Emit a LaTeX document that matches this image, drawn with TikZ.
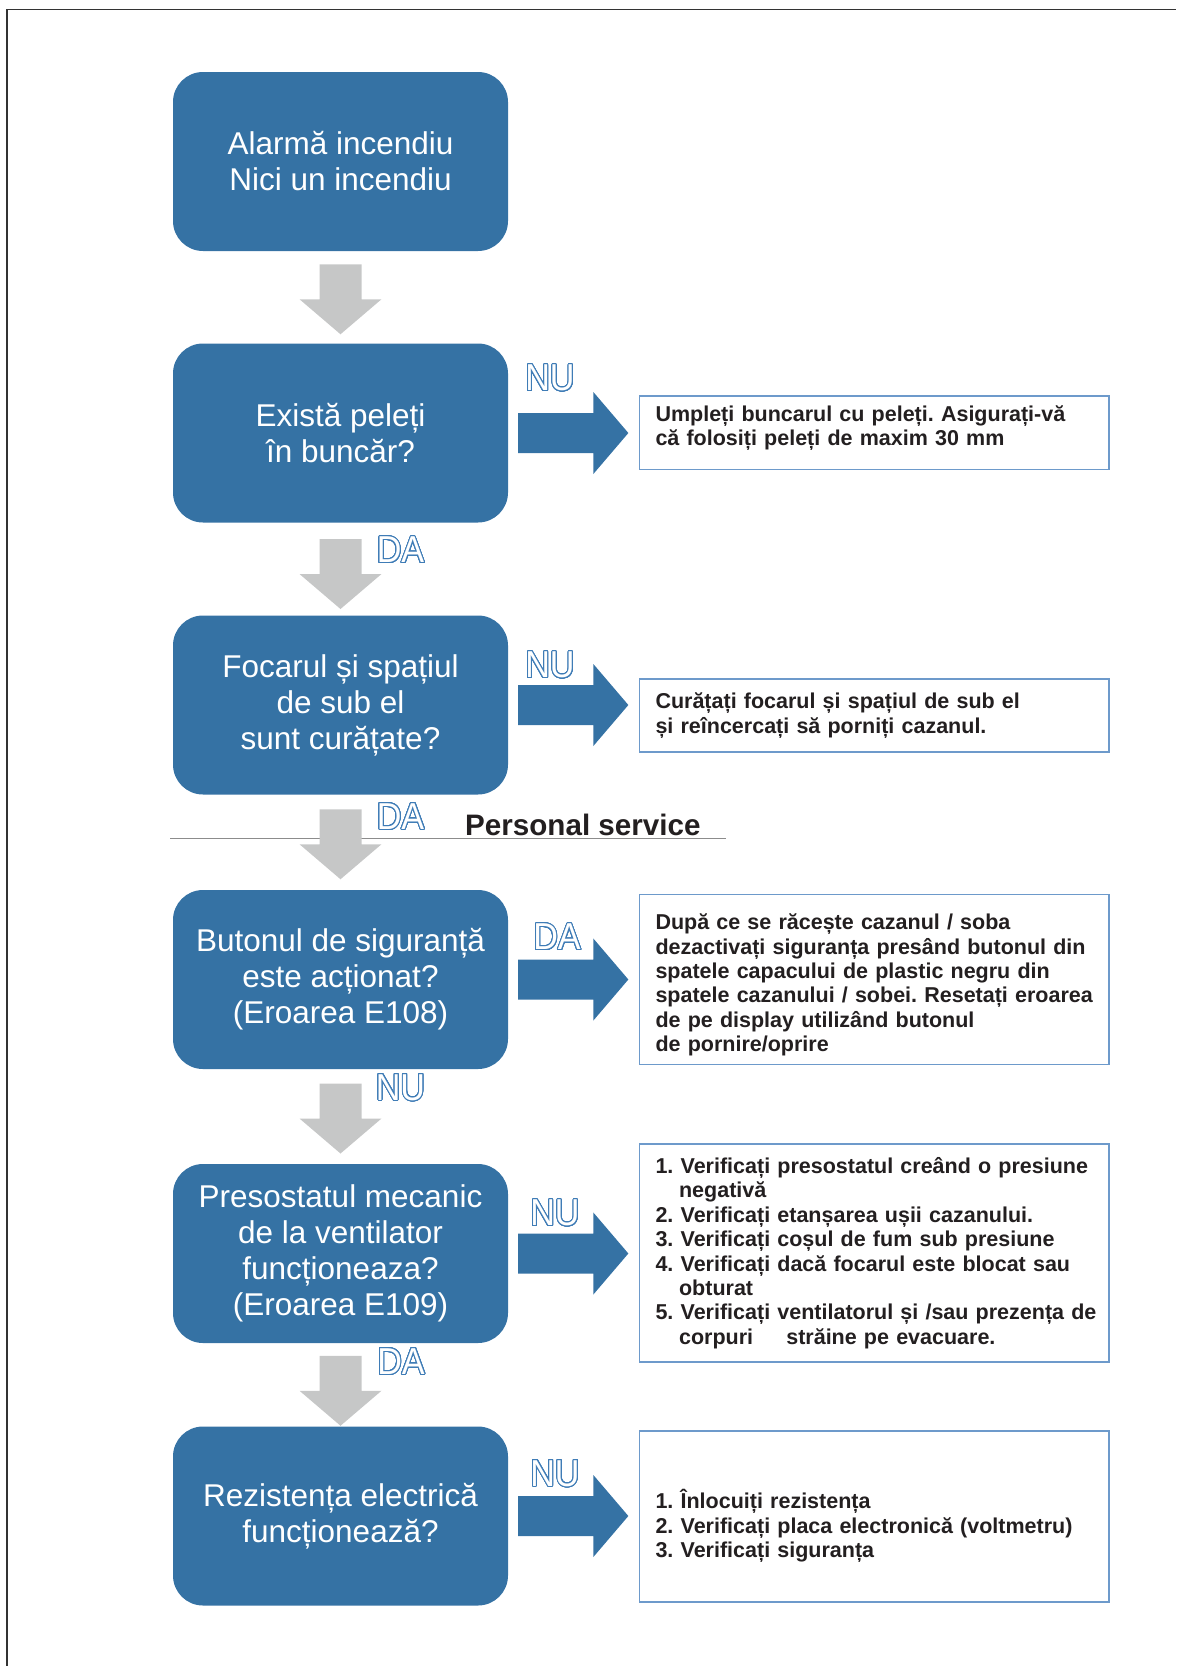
\documentclass[tikz,border=0pt]{standalone}
\usepackage{fontspec}
\setmainfont{Liberation Sans}
\usepackage{graphicx}
\usepackage{contour}
\usetikzlibrary{calc}

\definecolor{boxblue}{HTML}{3572A4}
\definecolor{arrowgray}{HTML}{C6C7C7}
\definecolor{edgeblue}{HTML}{6D9ACB}
\definecolor{inkdark}{HTML}{231F20}
\definecolor{labelblue}{HTML}{3F7CB6}
\definecolor{rulegray}{HTML}{8C8C8C}
\definecolor{framegray}{HTML}{333333}

\contourlength{1.1pt}
\contournumber{32}
\frenchspacing

% hollow answer label (white letters, blue outline)
\newcommand\yesno[1]{\scalebox{0.91}[1]{\contour{labelblue}{#1}}}

% grey block arrow centred in the gap between two stacked boxes
\newcommand\grayarrowto[3][2]{%
  \coordinate (ga) at ($(#2.south)!.5!(#3.north)+(0,#1)$);
  \fill[grayflow] ($(ga)+(-21,-35)$) -- ($(ga)+(21,-35)$) -- ($(ga)+(21,0)$)
    -- ($(ga)+(41,0)$) -- ($(ga)+(0,35)$) -- ($(ga)+(-41,0)$)
    -- ($(ga)+(-21,0)$) -- cycle;}

% blue block arrow from a question box towards its advice box
\newcommand\bluearrowto[2]{%
  \coordinate (ra) at ($(#1.east)+(10,0)$);
  \coordinate (rt) at (#2.west |- #1.east);
  \coordinate (rb) at ($(rt)+(-10.5,0)$);
  \fill[blueflow] ($(ra)+(0,-20)$) -- ($(rb)+(-35,-20)$) -- ($(rb)+(-35,-41)$)
    -- (rb) -- ($(rb)+(-35,41)$) -- ($(rb)+(-35,20)$) -- ($(ra)+(0,20)$) -- cycle;}

\begin{document}
\begin{tikzpicture}[x=1pt,y=-1pt,
  question/.style={rectangle, rounded corners=30pt, fill=boxblue, text=white,
    minimum width=335pt, minimum height=179pt, inner sep=0pt, align=center,
    font=\fontsize{31.5}{36}\selectfont},
  advice/.style={rectangle, draw=edgeblue, line width=1.3pt, fill=white,
    minimum width=469.5pt, text width=437.5pt, inner xsep=16pt, inner ysep=0pt,
    align=left, text=inkdark, font=\bfseries\fontsize{21.5}{24.4}\selectfont},
  answer/.style={inner sep=0pt, text=white, font=\fontsize{37.5}{40}\selectfont},
  grayflow/.style={fill=arrowgray},
  blueflow/.style={fill=boxblue},
  framestyle/.style={draw=framegray, line width=1.3pt},
  divider/.style={draw=rulegray, line width=1.2pt}]

\useasboundingbox (0,0) rectangle (1176,1666);

% page frame
\draw[framestyle] (7,1666) -- (7,9.5) -- (1176,9.5);

% questions
\node[question] (b1) at (340.5,161.5) {Alarmă incendiu\\Nici un incendiu};
\node[question] (b2) at (340.5,433)   {Există peleți\\în buncăr?};
\node[question] (b3) at (340.5,705)   {Focarul și spațiul\\de sub el\\sunt curățate?};
\node[question] (b4) at (340.5,979.5) {Butonul de siguranță\\este acționat?\\(Eroarea E108)};
\node[question] (b5) at (340.5,1253.5){Presostatul mecanic\\de la ventilator\\funcționeaza?\\(Eroarea E109)};
\node[question] (b6) at (340.5,1516)  {Rezistența electrică\\funcționează?};

% advice boxes
\node[advice, minimum height=73.5pt] (t1) at (874.25,432.75)
  {\mbox{Umpleți buncarul cu peleți. Asigurați-vă}\\
   \mbox{că folosiți peleți de maxim 30 mm}\rule[-14pt]{0pt}{0pt}};
\node[advice, minimum height=73pt] (t2) at (874.25,715.5)
  {\mbox{Curățați focarul și spațiul de sub el}\\
   \mbox{și reîncercați să porniți cazanul.}};
\node[advice, minimum height=170pt] (t3) at (874.25,979.5)
  {\rule{0pt}{27pt}\mbox{După ce se răcește cazanul / soba}\\
   \mbox{dezactivați siguranța presând butonul din}\\
   \mbox{spatele capacului de plastic negru din}\\
   \mbox{spatele cazanului / sobei. Resetați eroarea}\\
   \mbox{de pe display utilizând butonul}\\
   \mbox{de pornire/oprire}};
\node[advice, minimum height=218pt] (t4) at (874.25,1253)
  {\mbox{1. Verificați presostatul creând o presiune}\\
   \hspace*{23.6pt}\mbox{negativă}\\
   \mbox{2. Verificați etanșarea ușii cazanului.}\\
   \mbox{3. Verificați coșul de fum sub presiune}\\
   \mbox{4. Verificați dacă focarul este blocat sau}\\
   \hspace*{23.6pt}\mbox{obturat}\\
   \mbox{5. Verificați ventilatorul și /sau prezența de}\\
   \hspace*{23.6pt}\mbox{corpuri\hspace{26pt} străine pe evacuare.}};
\node[advice, minimum height=171pt] (t5) at (874.25,1516.5)
  {\rule{0pt}{38pt}\mbox{1. Înlocuiți rezistența}\\
   \mbox{2. Verificați placa electronică (voltmetru)}\\
   \mbox{3. Verificați siguranța}};

% service divider
\coordinate (hl) at (170,838.5);
\coordinate (hr) at (725.5,838.5);
\draw[divider] (hl) -- (hr);
\node[anchor=base west, inner sep=0pt, text=inkdark,
      font=\bfseries\fontsize{29.6}{32}\selectfont] (ps) at (465,835) {Personal service};

% downward flow
\grayarrowto{b1}{b2}
\grayarrowto[5]{b2}{b3}
\grayarrowto{b3}{b4}
\grayarrowto{b4}{b5}
\grayarrowto[6]{b5}{b6}

% sideways flow
\bluearrowto{b2}{t1}
\bluearrowto{b3}{t2}
\bluearrowto{b4}{t3}
\bluearrowto{b5}{t4}
\bluearrowto{b6}{t5}

% answers
\node[answer] (nu1) at (550,378.5)   {\yesno{NU}};
\node[answer] (da1) at (400.5,550.5) {\yesno{DA}};
\node[answer] (nu2) at (550,665.5)   {\yesno{NU}};
\node[answer] (da2) at (400.5,817)   {\yesno{DA}};
\node[answer] (da3) at (557,937.5)   {\yesno{DA}};
\node[answer] (nu3) at (400.5,1088)  {\yesno{NU}};
\node[answer] (nu4) at (555,1213.5)  {\yesno{NU}};
\node[answer] (da4) at (401,1362)    {\yesno{DA}};
\node[answer] (nu5) at (555,1474)    {\yesno{NU}};

\end{tikzpicture}
\end{document}
